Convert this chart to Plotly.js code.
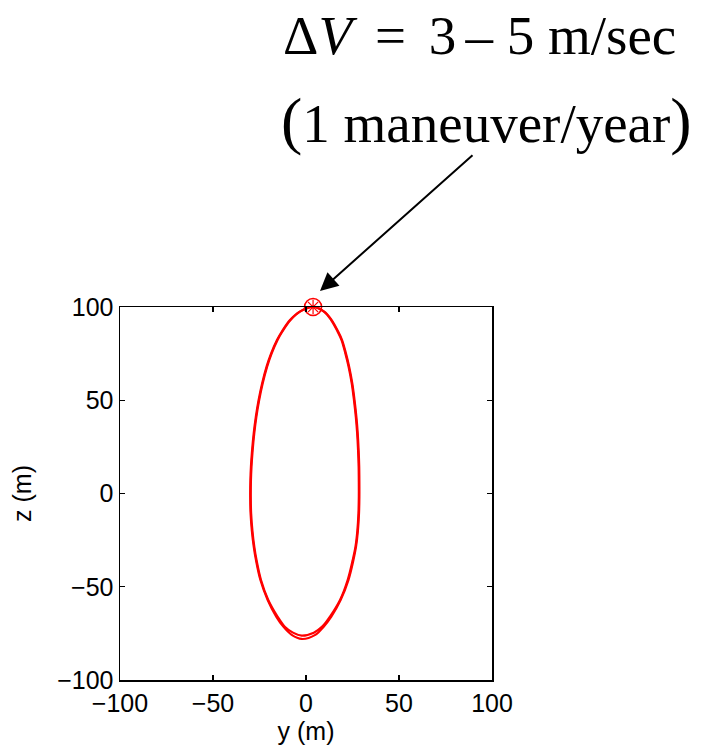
<!DOCTYPE html>
<html>
<head>
<meta charset="utf-8">
<script src="https://cdn.plot.ly/plotly-3.0.1.min.js"></script>
<style>html,body{margin:0;padding:0;background:#fff;}</style>
</head>
<body>
<div id="chart" style="width:721px;height:753px;"></div>
<script>
// Relative orbit, loop 1 (outer): y (m), z (m)
var loop1Y = [3.8, 9.8, 13.8, 17.2, 19.4, 21.5, 23.2, 24.9, 26.1, 27.1, 27.8, 28.3, 28.6, 28.7, 28.7, 28.5, 27.9, 26.9, 25.5, 22.8, 18.6, 13.6, 9.5, 5.0, -2.3, -7.7, -12.2, -16.0, -20.6, -24.5, -26.9, -28.1, -29.1, -29.8, -30.0, -29.9, -29.6, -29.0, -28.1, -27.0, -25.5, -23.6, -21.2, -18.8, -15.6, -12.9, -8.6, -3.4, 3.8];
var loop1Z = [100, 97.5, 93, 87, 82.3, 75, 68, 59, 50, 41, 32.4, 23, 14.4, 5, -1.7, -10.6, -20, -28.5, -35.7, -46.4, -57.1, -66, -71.4, -75.8, -78, -75.8, -71.4, -66, -57.1, -46.4, -35.7, -28.5, -20, -10.6, -1.7, 7.2, 14.4, 23, 32.4, 41, 50, 59, 68, 75, 82.3, 87, 93, 97.5, 100];
// loop 2 (inner at the bottom)
var loop2Y = [3.8, 9.6, 13.5, 16.9, 19.1, 21.2, 22.9, 24.6, 25.8, 26.8, 27.5, 28.0, 28.3, 28.4, 28.4, 28.2, 27.6, 26.6, 25.1, 22.4, 18.3, 12.9, 8.7, 4.2, -2.3, -7.0, -11.4, -15.3, -20.3, -24.2, -26.6, -27.8, -28.8, -29.5, -29.7, -29.6, -29.3, -28.7, -27.8, -26.7, -25.2, -23.3, -20.9, -18.5, -15.3, -12.6, -8.3, -3.2, 3.8];
var loop2Z = [100, 97.5, 93, 87, 82.3, 75, 68, 59, 50, 41, 32.4, 23, 14.4, 5, -1.7, -10.6, -20, -28.5, -35.7, -46.4, -57.1, -66, -71.4, -74.6, -76.2, -74.6, -71.4, -66, -57.1, -46.4, -35.7, -28.5, -20, -10.6, -1.7, 7.2, 14.4, 23, 32.4, 41, 50, 59, 68, 75, 82.3, 87, 93, 97.5, 100];
// maneuver point
var manY = [3.8];
var manZ = [100];
var tickVals = [-100, -50, 0, 50, 100];

var lineStyle = {color: '#ff0000', width: 2.2, shape: 'spline', smoothing: 1};
var traces = [
  {x: loop1Y, y: loop1Z, mode: 'lines', line: lineStyle, cliponaxis: false, hoverinfo: 'skip'},
  {x: loop2Y, y: loop2Z, mode: 'lines', line: lineStyle, cliponaxis: false, hoverinfo: 'skip'},
  {x: manY, y: manZ, mode: 'markers', cliponaxis: false,
   marker: {symbol: 'circle-open', size: 17, color: '#ff0000', line: {width: 1.6, color: '#ff0000'}}},
  {x: manY, y: manZ, mode: 'markers', cliponaxis: false,
   marker: {symbol: 'asterisk-open', size: 12, color: '#ff0000', line: {width: 1.2, color: '#ff0000'}}}
];

var tickFont = {family: 'Liberation Sans, Arial', size: 25, color: '#000'};
var axisCommon = {
  range: [-100, 100], tickvals: tickVals, ticks: 'inside', ticklen: 5, tickwidth: 1.2,
  tickcolor: '#000', showline: true, linecolor: '#000', linewidth: 1.5, mirror: 'ticks',
  showgrid: false, zeroline: false, tickfont: tickFont
};

var serif = 'Liberation Serif, Times New Roman, serif';
var layout = {
  width: 721, height: 753,
  margin: {l: 120, r: 229, t: 307, b: 73},
  paper_bgcolor: '#fff', plot_bgcolor: '#fff',
  showlegend: false,
  xaxis: Object.assign({}, axisCommon, {
    title: {text: 'y (m)', font: {family: 'Liberation Sans, Arial', size: 25, color: '#000'}, standoff: 6}
  }),
  yaxis: Object.assign({}, axisCommon, {
    title: {text: 'z (m)', font: {family: 'Liberation Sans, Arial', size: 25, color: '#000'}, standoff: 18}
  }),
  annotations: [
    {xref: 'paper', yref: 'paper', x: (281 - 120) / 372, y: (680 - 35) / 373, xanchor: 'left', yanchor: 'middle',
     showarrow: false, text: 'Δ<i>V</i> \u2006= \u20063\u2006– 5 m/sec',
     font: {family: serif, size: 55, color: '#000'}},
    {xref: 'paper', yref: 'paper', x: (279 - 120) / 372, y: (680 - 121) / 373, xanchor: 'left', yanchor: 'middle',
     showarrow: false, text: '<span style="font-size:64px">(</span>1 maneuver/year<span style="font-size:64px">)</span>',
     font: {family: serif, size: 55, color: '#000'}},
    {xref: 'paper', yref: 'paper', x: (320 - 120) / 372, y: (680 - 291) / 373, ax: 154, ay: -137,
     showarrow: true, arrowhead: 2, arrowsize: 1.8, arrowwidth: 2, arrowcolor: '#000', standoff: 0, text: ''}
  ]
};

Plotly.newPlot('chart', traces, layout, {displayModeBar: false, staticPlot: true});
</script>
</body>
</html>
